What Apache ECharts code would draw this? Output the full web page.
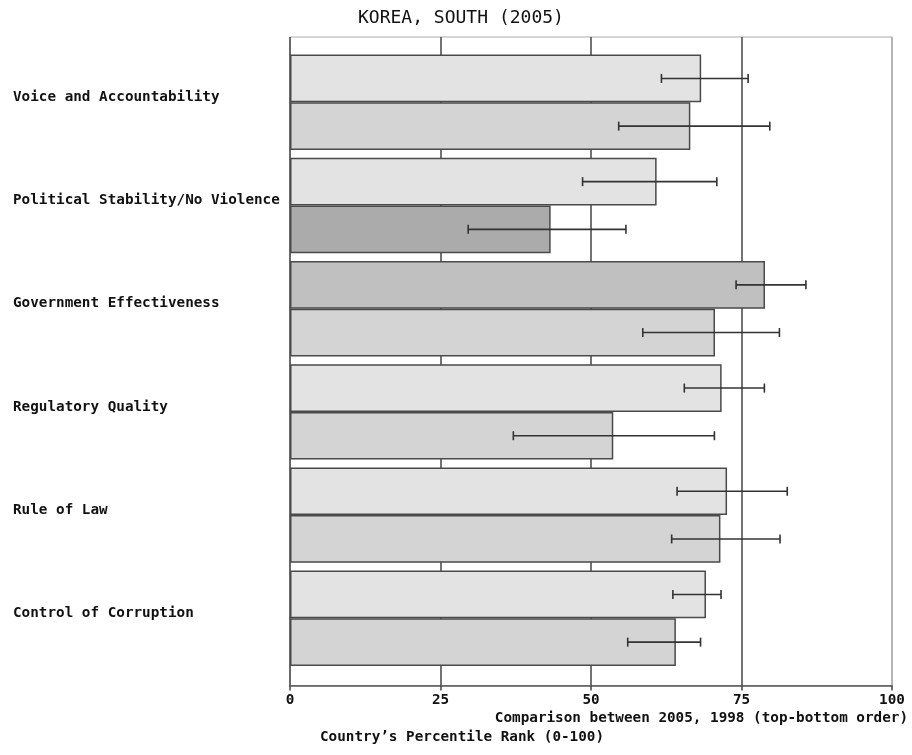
<!DOCTYPE html>
<html>
<head>
<meta charset="utf-8">
<script src="https://cdn.jsdelivr.net/npm/echarts@6/dist/echarts.min.js"></script>
<style>
html,body{margin:0;padding:0;background:#fff;}
#chart{width:912px;height:755px;}
</style>
</head>
<body>
<div id="chart"></div>
<script>
const categories = ['Voice and Accountability', 'Political Stability/No Violence', 'Government Effectiveness', 'Regulatory Quality', 'Rule of Law', 'Control of Corruption'];
const rank2005 = [68.3, 60.9, 78.9, 71.7, 72.6, 69.1];
const low2005  = [61.7, 48.6, 74.1, 65.5, 64.3, 63.6];
const high2005 = [76.1, 70.9, 85.7, 78.8, 82.6, 71.6];
const rank1998 = [66.5, 43.3, 70.6, 53.7, 71.5, 64.1];
const low1998  = [54.6, 29.6, 58.6, 37.1, 63.4, 56.1];
const high1998 = [79.7, 55.8, 81.3, 70.5, 81.4, 68.2];
const xMin = 0, xMax = 100, xStep = 25;

const FONT = 'DejaVu Sans Mono';
function shade(v, year) {
  if (v < 50) return '#ababab';
  if (v >= 75) return '#c0c0c0';
  return year === 2005 ? '#e3e3e3' : '#d4d4d4';
}
function barData(vals, year) {
  return vals.map(v => ({ value: v, itemStyle: { color: shade(v, year) } }));
}
function errData(lo, hi, which) {
  return lo.map((l, i) => [i, l, hi[i], which]);
}
function renderErr(params, api) {
  const idx = api.value(0);
  const lo = api.coord([api.value(1), idx]);
  const hi = api.coord([api.value(2), idx]);
  const band = api.size([0, 1])[1];
  const off = band * 0.231 * (api.value(3) === 0 ? -1 : 1);
  const y = lo[1] + off;
  const cap = 4.5;
  const st = { stroke: '#333', lineWidth: 1.6 };
  return {
    type: 'group',
    children: [
      { type: 'line', shape: { x1: lo[0], y1: y, x2: hi[0], y2: y }, style: st },
      { type: 'line', shape: { x1: lo[0], y1: y - cap, x2: lo[0], y2: y + cap }, style: st },
      { type: 'line', shape: { x1: hi[0], y1: y - cap, x2: hi[0], y2: y + cap }, style: st }
    ]
  };
}

const chart = echarts.init(document.getElementById('chart'), null, { renderer: 'canvas' });
const option = {
  backgroundColor: '#ffffff',
  animation: false,
  title: [
    { text: 'KOREA, SOUTH (2005)', left: 358, top: 9, padding: 0,
      textStyle: { fontFamily: FONT, fontSize: 18, fontWeight: 'normal', color: '#111' } },
    { text: 'Comparison between 2005, 1998 (top-bottom order)', right: 4, top: 711, padding: 0,
      textStyle: { fontFamily: FONT, fontSize: 14.3, fontWeight: 'bold', color: '#111' } },
    { text: 'Country\u2019s Percentile Rank (0-100)', left: 320, top: 730, padding: 0,
      textStyle: { fontFamily: FONT, fontSize: 14.3, fontWeight: 'bold', color: '#111' } }
  ],
  grid: [
    { left: 290, width: 602, top: 37, height: 648.5, show: true, borderColor: '#aaa', borderWidth: 1,
      backgroundColor: 'transparent', containLabel: false, outerBoundsMode: 'none' },
    { left: 290, width: 602, top: 50.7, height: 619.2, containLabel: false, outerBoundsMode: 'none' }
  ],
  xAxis: [
    { gridIndex: 0, type: 'value', min: xMin, max: xMax, interval: xStep,
      axisLine: { show: true, lineStyle: { color: '#555', width: 1.5 } },
      axisTick: { show: true, inside: false, length: 5, lineStyle: { color: '#444', width: 1.5 } },
      axisLabel: { margin: 8, fontFamily: FONT, fontSize: 14.3, fontWeight: 'bold', color: '#111' },
      splitLine: { show: true, lineStyle: { color: ['#444', '#444', '#444', '#444', '#aaa'], width: 1.5 } } },
    { gridIndex: 1, type: 'value', min: xMin, max: xMax, show: false }
  ],
  yAxis: [
    { gridIndex: 0, type: 'value', min: 0, max: 1, show: false },
    { gridIndex: 1, type: 'category', data: categories, inverse: true,
      axisLine: { show: false }, axisTick: { show: false }, splitLine: { show: false },
      axisLabel: { align: 'left', margin: 277, verticalAlign: 'bottom', lineHeight: 10,
        fontFamily: FONT, fontSize: 14.3, fontWeight: 'bold', color: '#111' } }
  ],
  series: [
    { name: '2005', type: 'bar', xAxisIndex: 1, yAxisIndex: 1, barWidth: '46.2%', barGap: '0%',
      itemStyle: { borderColor: '#4a4a4a', borderWidth: 1.5 }, data: barData(rank2005, 2005) },
    { name: '1998', type: 'bar', xAxisIndex: 1, yAxisIndex: 1, barWidth: '46.2%', barGap: '0%',
      itemStyle: { borderColor: '#4a4a4a', borderWidth: 1.5 }, data: barData(rank1998, 1998) },
    { name: 'err2005', type: 'custom', xAxisIndex: 1, yAxisIndex: 1, renderItem: renderErr,
      encode: { x: [1, 2], y: 0 }, data: errData(low2005, high2005, 0), z: 5 },
    { name: 'err1998', type: 'custom', xAxisIndex: 1, yAxisIndex: 1, renderItem: renderErr,
      encode: { x: [1, 2], y: 0 }, data: errData(low1998, high1998, 1), z: 5 }
  ]
};
chart.setOption(option);
</script>
</body>
</html>
